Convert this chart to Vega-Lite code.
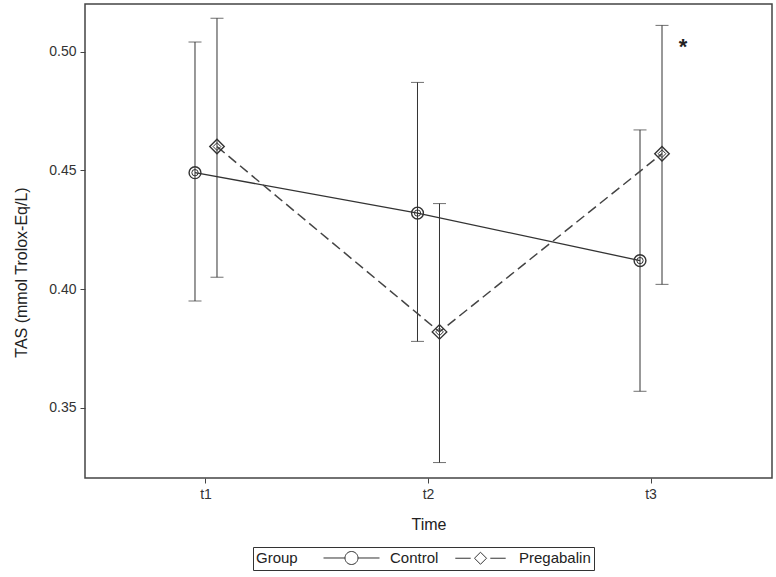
{
  "$schema": "https://vega.github.io/schema/vega-lite/v6.json",
  "width": 687,
  "height": 474,
  "autosize": "none",
  "padding": {"left": 85, "top": 4, "right": 4, "bottom": 99},
  "background": "white",
  "datasets": {
    "stats": [
      {"Time": "t1", "Group": "Control", "mean": 0.449, "lo": 0.395, "hi": 0.504},
      {"Time": "t2", "Group": "Control", "mean": 0.432, "lo": 0.378, "hi": 0.487},
      {"Time": "t3", "Group": "Control", "mean": 0.412, "lo": 0.357, "hi": 0.467},
      {"Time": "t1", "Group": "Pregabalin", "mean": 0.460, "lo": 0.405, "hi": 0.514},
      {"Time": "t2", "Group": "Pregabalin", "mean": 0.382, "lo": 0.327, "hi": 0.436},
      {"Time": "t3", "Group": "Pregabalin", "mean": 0.457, "lo": 0.402, "hi": 0.511}
    ],
    "note": [
      {"Time": "t3", "y": 0.5038, "label": "*"}
    ]
  },
  "data": {"name": "stats"},
  "encoding": {
    "x": {
      "field": "Time",
      "type": "nominal",
      "title": "Time",
      "scale": {"type": "band", "domain": ["t1", "t2", "t3"], "paddingInner": 0, "paddingOuter": 0.0438},
      "axis": {"labelAngle": 0, "titlePadding": 15, "labelPadding": 4}
    },
    "xOffset": {
      "field": "Group",
      "type": "nominal",
      "scale": {"domain": ["Control", "Pregabalin"], "range": [89.25, 133.25], "paddingInner": 0, "paddingOuter": 0}
    }
  },
  "layer": [
    {
      "mark": {"type": "rule", "color": "#333", "strokeWidth": 1},
      "encoding": {
        "y": {
          "field": "lo",
          "type": "quantitative",
          "title": "TAS (mmol Trolox-Eq/L)",
          "scale": {"domain": [0.3205, 0.52], "nice": false, "zero": false},
          "axis": {"values": [0.35, 0.4, 0.45, 0.5], "format": ".2f", "titlePadding": 19, "labelPadding": 4, "titleY": 268}
        },
        "y2": {"field": "hi"}
      }
    },
    {
      "mark": {"type": "tick", "orient": "horizontal", "size": 13, "thickness": 1, "color": "#333"},
      "encoding": {"y": {"field": "lo", "type": "quantitative"}}
    },
    {
      "mark": {"type": "tick", "orient": "horizontal", "size": 13, "thickness": 1, "color": "#333"},
      "encoding": {"y": {"field": "hi", "type": "quantitative"}}
    },
    {
      "transform": [{"filter": "datum.Group === 'Control'"}],
      "mark": {"type": "line", "color": "#333", "strokeWidth": 1.3},
      "encoding": {"y": {"field": "mean", "type": "quantitative"}}
    },
    {
      "transform": [{"filter": "datum.Group === 'Pregabalin'"}],
      "mark": {"type": "line", "color": "#444", "strokeWidth": 1.5, "strokeDash": [10, 5]},
      "encoding": {"y": {"field": "mean", "type": "quantitative"}}
    },
    {
      "transform": [{"filter": "datum.Group === 'Control'"}],
      "mark": {"type": "point", "shape": "circle", "size": 140, "color": "#333", "strokeWidth": 1.4, "opacity": 1},
      "encoding": {"y": {"field": "mean", "type": "quantitative"}}
    },
    {
      "transform": [{"filter": "datum.Group === 'Control'"}],
      "mark": {"type": "point", "shape": "circle", "size": 40, "color": "#333", "strokeWidth": 1, "opacity": 1},
      "encoding": {"y": {"field": "mean", "type": "quantitative"}}
    },
    {
      "transform": [{"filter": "datum.Group === 'Pregabalin'"}],
      "mark": {"type": "point", "shape": "diamond", "size": 210, "color": "#333", "strokeWidth": 1.4, "opacity": 1},
      "encoding": {"y": {"field": "mean", "type": "quantitative"}}
    },
    {
      "transform": [{"filter": "datum.Group === 'Pregabalin'"}],
      "mark": {"type": "point", "shape": "diamond", "size": 60, "color": "#333", "strokeWidth": 1, "opacity": 1},
      "encoding": {"y": {"field": "mean", "type": "quantitative"}}
    },
    {
      "mark": {"type": "point", "size": 0, "color": "#333"},
      "encoding": {
        "y": {"field": "mean", "type": "quantitative"},
        "shape": {
          "field": "Group",
          "type": "nominal",
          "title": "Group",
          "scale": {
            "domain": ["Control", "Pregabalin"],
            "range": [
              "M-1,0H2.07M3.93,0H7M2.07,0A0.93,0.93 0 1,1 3.93,0A0.93,0.93 0 1,1 2.07,0Z",
              "M-0.6,0H1.6M4.4,0H6.6M2.14,0L3,-0.86L3.86,0L3,0.86Z"
            ]
          },
          "legend": {
            "orient": "none",
            "legendX": 168,
            "legendY": 543,
            "direction": "horizontal",
            "titleOrient": "left",
            "symbolSize": 196,
            "symbolOpacity": 1,
            "symbolStrokeColor": "#333",
            "symbolFillColor": "transparent",
            "symbolStrokeWidth": 1
          }
        }
      }
    },
    {
      "data": {"name": "note"},
      "mark": {"type": "text", "fontSize": 22, "fontWeight": "bold", "color": "#222", "dx": 32, "dy": 5, "baseline": "middle", "font": "Liberation Sans"},
      "encoding": {
        "xOffset": null,
        "y": {"field": "y", "type": "quantitative"},
        "text": {"field": "label"}
      }
    }
  ],
  "config": {
    "font": "Liberation Sans",
    "view": {"stroke": "#444", "strokeWidth": 1.5},
    "axis": {
      "grid": false,
      "domain": false,
      "tickColor": "#444",
      "tickSize": 5,
      "labelFont": "Liberation Sans",
      "labelFontSize": 14,
      "labelColor": "#333",
      "titleFont": "Liberation Sans",
      "titleFontSize": 16,
      "titleFontWeight": "normal",
      "titleColor": "#222"
    },
    "legend": {
      "strokeColor": "#333",
      "padding": 3,
      "titlePadding": 25,
      "titleFontSize": 15,
      "titleFontWeight": "normal",
      "titleColor": "#222",
      "titleFont": "Liberation Sans",
      "titleBaseline": "middle",
      "titleAnchor": "middle",
      "labelFontSize": 15,
      "labelColor": "#222",
      "labelFont": "Liberation Sans",
      "labelOffset": 52,
      "columnPadding": 13
    }
  }
}
